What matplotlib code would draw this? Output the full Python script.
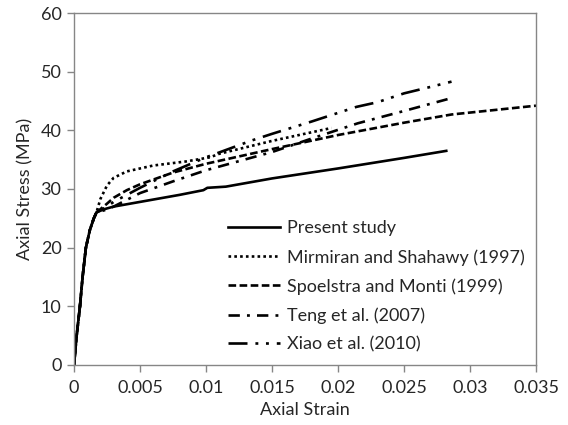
import matplotlib
matplotlib.use('Agg')
import matplotlib.pyplot as plt

plt.rcParams['font.family'] = ['Lato', 'DejaVu Sans']

# shared ascending branch (strain, stress in MPa)
base_strain = [0.0, 0.0002, 0.00045, 0.00065, 0.0009, 0.0012, 0.0015, 0.0017]
base_stress = [0.0, 5.0, 10.0, 15.0, 20.0, 23.0, 25.0, 26.0]

present_strain = [0.0022, 0.003, 0.005, 0.008, 0.0098, 0.0101, 0.0115, 0.015, 0.02, 0.025, 0.0282]
present_stress = [26.5, 27.0, 27.8, 29.0, 29.8, 30.2, 30.4, 31.8, 33.5, 35.3, 36.5]

mirmiran_strain = [0.002, 0.0025, 0.003, 0.004, 0.006, 0.0085, 0.0103, 0.011, 0.015, 0.0195]
mirmiran_stress = [28.3, 30.6, 31.9, 33.0, 34.0, 34.7, 35.4, 36.0, 38.2, 40.4]

spoelstra_strain = [0.0025, 0.003, 0.004, 0.005, 0.0075, 0.01, 0.015, 0.02, 0.025, 0.0286, 0.035]
spoelstra_stress = [27.5, 28.5, 29.8, 30.8, 32.8, 34.3, 36.8, 39.2, 41.3, 42.7, 44.2]

teng_strain = [0.0025, 0.003, 0.005, 0.0075, 0.01, 0.015, 0.018, 0.0215, 0.025, 0.0286]
teng_stress = [26.5, 27.0, 29.3, 31.3, 33.2, 36.3, 38.6, 41.2, 43.3, 45.5]

xiao_strain = [0.0025, 0.003, 0.005, 0.0075, 0.01, 0.0135, 0.015, 0.018, 0.0214, 0.023, 0.025, 0.027, 0.0286]
xiao_stress = [27.0, 27.8, 30.2, 33.0, 35.4, 38.3, 39.4, 41.5, 44.0, 44.8, 46.3, 47.4, 48.3]

labels = ['Present study', 'Mirmiran and Shahawy (1997)', 'Spoelstra and Monti (1999)',
          'Teng et al. (2007)', 'Xiao et al. (2010)']

fig = plt.figure(figsize=(5.68, 4.25), dpi=100)
ax = fig.add_axes([0.1303, 0.1412, 0.8134, 0.8282])

series = [
    (present_strain, present_stress, None),
    (mirmiran_strain, mirmiran_stress, (1, 1.2)),
    (spoelstra_strain, spoelstra_stress, (2.9, 1.3)),
    (teng_strain, teng_stress, (4.3, 2.7, 1.1, 2.7)),
    (xiao_strain, xiao_stress, (7.2, 3, 1.1, 2.9, 1.1, 3)),
]

for (xs, ys, dash), lab in zip(series, labels):
    line, = ax.plot(base_strain + xs, base_stress + ys, color='black', lw=1.9, label=lab)
    if dash is not None:
        line.set_dashes(dash)

ax.set_xlim(0, 0.035)
ax.set_ylim(0, 60)
ax.set_xticks([0, 0.005, 0.01, 0.015, 0.02, 0.025, 0.03, 0.035])
ax.set_xticklabels(['0', '0.005', '0.01', '0.015', '0.02', '0.025', '0.03', '0.035'])
ax.set_yticks(range(0, 61, 10))

for sp in ax.spines.values():
    sp.set_color('#868686')
    sp.set_linewidth(1)

ax.tick_params(axis='both', direction='out', length=5, width=1, color='#868686',
               labelsize=13, labelcolor='#262626')
ax.tick_params(axis='x', pad=6)
ax.tick_params(axis='y', pad=4)

ax.set_xlabel('Axial Strain', fontsize=13, color='#262626', labelpad=4)
ax.set_ylabel('Axial Stress (MPa)', fontsize=13, color='#262626', labelpad=5)

ax.legend(loc='upper left', bbox_to_anchor=(0.333, 0.411), frameon=False,
          fontsize=13, handlelength=2.88, handletextpad=0.38, labelspacing=0.7,
          borderpad=0, borderaxespad=0, labelcolor='#262626')

fig.savefig('out.png', dpi=100)
